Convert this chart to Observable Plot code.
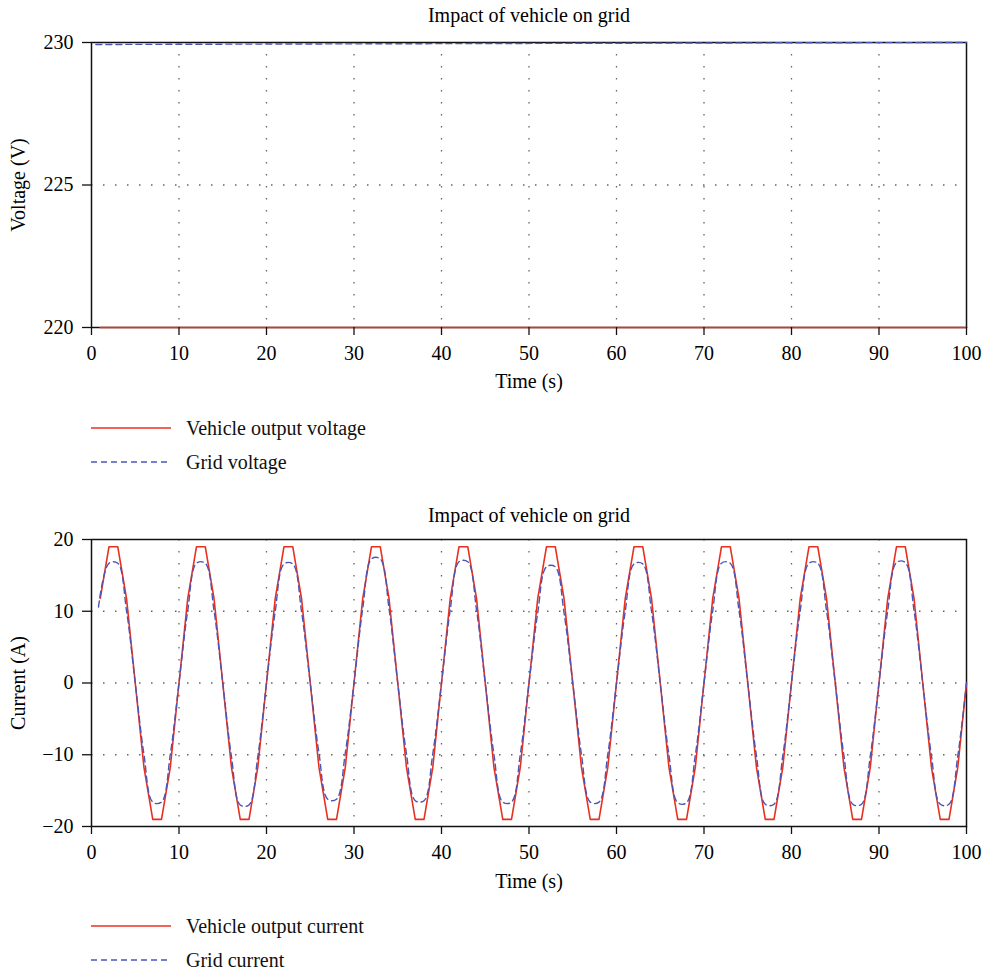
<!DOCTYPE html>
<html>
<head>
<meta charset="utf-8">
<script src="https://cdn.jsdelivr.net/npm/d3@7"></script>
<script src="https://cdn.jsdelivr.net/npm/@observablehq/plot@0.6"></script>
<style>
  body { margin: 0; background: #fff; width: 984px; height: 975px; position: relative; overflow: hidden; font-family: "Liberation Serif", serif; }
  .abs { position: absolute; left: 0; }
  svg text { font-family: "Liberation Serif", serif; }
</style>
</head>
<body>
<div id="c1" class="abs" style="top:0px"></div>
<svg id="leg1" class="abs" style="top:410px" width="984" height="70"></svg>
<div id="c2" class="abs" style="top:490px"></div>
<svg id="leg2" class="abs" style="top:908px" width="984" height="67"></svg>
<script>
// ---------- data ----------
const chartTitle = "Impact of vehicle on grid";
const xTicks = [0, 10, 20, 30, 40, 50, 60, 70, 80, 90, 100];
const xGridTicks = [10, 20, 30, 40, 50, 60, 70, 80, 90];

// Voltage chart
const voltageTicks = [220, 225, 230];
const vehicleVoltageTime = [1, 100];
const vehicleVoltage = [220, 220];
const gridVoltageTime = [0.5, 20, 40, 60, 80, 100];
const gridVoltage = [229.93, 229.945, 229.96, 229.975, 229.99, 230.0];

// Current chart
const currentTicks = [-20, -10, 0, 10, 20];
const currentTime = [
  1, 2, 3, 4, 5, 6, 7, 8, 9, 10,
  11, 12, 13, 14, 15, 16, 17, 18, 19, 20,
  21, 22, 23, 24, 25, 26, 27, 28, 29, 30,
  31, 32, 33, 34, 35, 36, 37, 38, 39, 40,
  41, 42, 43, 44, 45, 46, 47, 48, 49, 50,
  51, 52, 53, 54, 55, 56, 57, 58, 59, 60,
  61, 62, 63, 64, 65, 66, 67, 68, 69, 70,
  71, 72, 73, 74, 75, 76, 77, 78, 79, 80,
  81, 82, 83, 84, 85, 86, 87, 88, 89, 90,
  91, 92, 93, 94, 95, 96, 97, 98, 99, 100
];
const vehicleCurrent = [
  11.8, 19.0, 19.0, 11.8, 0.0, -11.8, -19.0, -19.0, -11.8, 0.0,
  11.8, 19.0, 19.0, 11.8, 0.0, -11.8, -19.0, -19.0, -11.8, 0.0,
  11.8, 19.0, 19.0, 11.8, 0.0, -11.8, -19.0, -19.0, -11.8, 0.0,
  11.8, 19.0, 19.0, 11.8, 0.0, -11.8, -19.0, -19.0, -11.8, 0.0,
  11.8, 19.0, 19.0, 11.8, 0.0, -11.8, -19.0, -19.0, -11.8, 0.0,
  11.8, 19.0, 19.0, 11.8, 0.0, -11.8, -19.0, -19.0, -11.8, 0.0,
  11.8, 19.0, 19.0, 11.8, 0.0, -11.8, -19.0, -19.0, -11.8, 0.0,
  11.8, 19.0, 19.0, 11.8, 0.0, -11.8, -19.0, -19.0, -11.8, 0.0,
  11.8, 19.0, 19.0, 11.8, 0.0, -11.8, -19.0, -19.0, -11.8, 0.0,
  11.8, 19.0, 19.0, 11.8, 0.0, -11.8, -19.0, -19.0, -11.8, 0.0
];
const gridCurrentTime = [
  0.8, 2, 3, 4, 5, 6, 7, 8, 9, 10,
  11, 12, 13, 14, 15, 16, 17, 18, 19, 20,
  21, 22, 23, 24, 25, 26, 27, 28, 29, 30,
  31, 32, 33, 34, 35, 36, 37, 38, 39, 40,
  41, 42, 43, 44, 45, 46, 47, 48, 49, 50,
  51, 52, 53, 54, 55, 56, 57, 58, 59, 60,
  61, 62, 63, 64, 65, 66, 67, 68, 69, 70,
  71, 72, 73, 74, 75, 76, 77, 78, 79, 80,
  81, 82, 83, 84, 85, 86, 87, 88, 89, 90,
  91, 92, 93, 94, 95, 96, 97, 98, 99, 100
];
const gridCurrent = [
  10.6, 16.7, 16.7, 10.1, 0.0, -10.0, -16.6, -16.6, -10.0, 0.0,
  10.1, 16.7, 16.7, 10.1, 0.0, -10.3, -17.0, -17.0, -10.3, 0.0,
  10.0, 16.6, 16.6, 10.0, 0.0, -9.8, -16.2, -16.2, -9.8, 0.0,
  10.4, 17.3, 17.3, 10.4, 0.0, -9.9, -16.4, -16.4, -9.9, 0.0,
  10.2, 16.9, 16.9, 10.2, 0.0, -10.0, -16.6, -16.6, -10.0, 0.0,
  9.8, 16.2, 16.2, 9.8, 0.0, -10.0, -16.6, -16.6, -10.0, 0.0,
  10.0, 16.6, 16.6, 10.0, 0.0, -10.1, -16.7, -16.7, -10.1, 0.0,
  10.1, 16.7, 16.7, 10.1, 0.0, -10.2, -16.9, -16.9, -10.2, 0.0,
  10.1, 16.7, 16.7, 10.1, 0.0, -10.2, -16.9, -16.9, -10.2, 0.0,
  10.1, 16.8, 16.8, 10.1, 0.0, -10.2, -16.9, -16.9, -10.2, 0.0
];

const RED = "#e8301f";
const BLUE = "#4a55b8";
const FONT = "Liberation Serif, serif";
const FS = 20;

function pairs(xs, ys) { return xs.map((x, i) => ({x, y: ys[i]})); }

function makeChart({height, marginTop, marginBottom, titleDy, xLabelDy, yDomain, yTicks, yGrid, yLabel, series}) {
  return Plot.plot({
    width: 984,
    height,
    marginLeft: 91,
    marginRight: 18,
    marginTop,
    marginBottom,
    style: {fontFamily: FONT, fontSize: FS + "px", color: "black", background: "white", overflow: "visible"},
    x: {domain: [0, 100]},
    y: {domain: yDomain},
    marks: [
      Plot.gridX(xGridTicks, {stroke: "#666", strokeOpacity: 1, strokeWidth: 1.3, strokeDasharray: "1.5,10.5"}),
      Plot.gridY(yGrid, {stroke: "#666", strokeOpacity: 1, strokeWidth: 1.3, strokeDasharray: "1.5,10.5"}),
      Plot.frame({stroke: "#111", strokeWidth: 1.5}),
      ...series,
      Plot.axisX(xTicks, {tickSize: 8, tickPadding: 10, label: null, stroke: "#111", strokeWidth: 1.3, fontSize: FS}),
      Plot.axisY(yTicks, {tickSize: 9, tickPadding: 9, label: null, stroke: "#111", strokeWidth: 1.3, fontSize: FS}),
      Plot.text([chartTitle], {frameAnchor: "top", lineAnchor: "middle", textAnchor: "middle", dy: titleDy, fontSize: FS}),
      Plot.text(["Time (s)"], {frameAnchor: "bottom", lineAnchor: "middle", textAnchor: "middle", dy: xLabelDy, fontSize: FS}),
      Plot.text([yLabel], {frameAnchor: "left", lineAnchor: "middle", textAnchor: "middle", dx: -73, rotate: -90, fontSize: FS})
    ]
  });
}

const chart1 = makeChart({
  height: 400, marginTop: 42, marginBottom: 73, titleDy: -27, xLabelDy: 54,
  yDomain: [220, 230], yTicks: voltageTicks, yGrid: [225], yLabel: "Voltage (V)",
  series: [
    Plot.line(pairs(vehicleVoltageTime, vehicleVoltage), {x: "x", y: "y", stroke: RED, strokeWidth: 1.6}),
    Plot.line(pairs(gridVoltageTime, gridVoltage), {x: "x", y: "y", stroke: BLUE, strokeWidth: 1.4, strokeDasharray: "6,4"})
  ]
});
document.getElementById("c1").append(chart1);

const chart2 = makeChart({
  height: 410, marginTop: 49, marginBottom: 74, titleDy: -24, xLabelDy: 55,
  yDomain: [-20, 20], yTicks: currentTicks, yGrid: [-10, 0, 10], yLabel: "Current (A)",
  series: [
    Plot.line(pairs(currentTime, vehicleCurrent), {x: "x", y: "y", stroke: RED, strokeWidth: 1.6}),
    Plot.line(pairs(gridCurrentTime, gridCurrent), {x: "x", y: "y", stroke: BLUE, strokeWidth: 1.4, strokeDasharray: "6,4", curve: "catmull-rom"})
  ]
});
document.getElementById("c2").append(chart2);

// ---------- legends ----------
function legend(svgId, items) {
  const svg = d3.select("#" + svgId);
  items.forEach((it, i) => {
    const y = 18 + i * 34;
    svg.append("line").attr("x1", 91).attr("x2", 171).attr("y1", y).attr("y2", y)
      .attr("stroke", it.color).attr("stroke-width", it.dash ? 1.4 : 1.6)
      .attr("stroke-dasharray", it.dash || null);
    svg.append("text").attr("x", 186).attr("y", y).attr("dy", "0.35em")
      .attr("font-size", FS).attr("fill", "#111").text(it.label);
  });
}
const legend1Labels = ["Vehicle output voltage", "Grid voltage"];
const legend2Labels = ["Vehicle output current", "Grid current"];
legend("leg1", [{label: legend1Labels[0], color: RED}, {label: legend1Labels[1], color: BLUE, dash: "6,4"}]);
legend("leg2", [{label: legend2Labels[0], color: RED}, {label: legend2Labels[1], color: BLUE, dash: "6,4"}]);
</script>
</body>
</html>
